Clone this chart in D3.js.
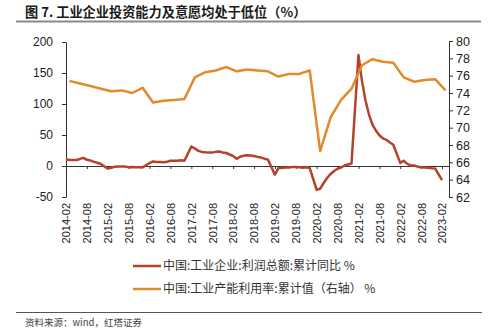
<!DOCTYPE html>
<html>
<head>
<meta charset="utf-8">
<script src="https://cdn.jsdelivr.net/npm/d3@7"></script>
<style>
  html, body { margin: 0; padding: 0; background: #fff; }
  svg { display: block; }
</style>
</head>
<body>
<svg id="chart" width="499" height="335"></svg>
<script>
// Industrial profits, cumulative YoY (%), monthly (January merged into February)
const profitDates = [
  "2014-02","2014-03","2014-04","2014-05","2014-06","2014-07","2014-08","2014-09","2014-10","2014-11","2014-12",
  "2015-02","2015-03","2015-04","2015-05","2015-06","2015-07","2015-08","2015-09","2015-10","2015-11","2015-12",
  "2016-02","2016-03","2016-04","2016-05","2016-06","2016-07","2016-08","2016-09","2016-10","2016-11","2016-12",
  "2017-02","2017-03","2017-04","2017-05","2017-06","2017-07","2017-08","2017-09","2017-10","2017-11","2017-12",
  "2018-02","2018-03","2018-04","2018-05","2018-06","2018-07","2018-08","2018-09","2018-10","2018-11","2018-12",
  "2019-02","2019-03","2019-04","2019-05","2019-06","2019-07","2019-08","2019-09","2019-10","2019-11","2019-12",
  "2020-02","2020-03","2020-04","2020-05","2020-06","2020-07","2020-08","2020-09","2020-10","2020-11","2020-12",
  "2021-02","2021-03","2021-04","2021-05","2021-06","2021-07","2021-08","2021-09","2021-10","2021-11","2021-12",
  "2022-02","2022-03","2022-04","2022-05","2022-06","2022-07","2022-08","2022-09","2022-10","2022-11","2022-12",
  "2023-02"
];
const profitYoY = [
  11.0, 9.6, 9.6, 9.8, 11.4, 13.2, 10.0, 9.0, 6.7, 5.3, 3.3,
  -4.2, -2.7, -1.3, -0.8, -0.7, -1.0, -1.9, -1.7, -2.0, -1.9, -2.3,
  4.8, 7.4, 6.5, 6.4, 6.2, 6.9, 8.4, 8.4, 8.6, 9.4, 8.5,
  31.5, 28.3, 24.4, 22.7, 22.0, 21.6, 21.6, 22.8, 23.3, 21.9, 21.0,
  16.1, 11.6, 15.0, 16.5, 17.2, 17.1, 16.2, 14.7, 13.6, 11.8, 10.3,
  -14.0, -3.3, -3.4, -2.3, -2.4, -1.7, -1.7, -2.1, -2.9, -2.1, -3.3,
  -38.3, -36.7, -27.4, -19.3, -12.8, -8.1, -4.4, -2.4, 0.7, 2.4, 4.1,
  178.9, 137.3, 106.0, 83.4, 66.9, 57.3, 49.5, 44.7, 42.2, 38.0, 34.3,
  5.0, 8.5, 3.5, 1.0, 1.0, -1.1, -2.1, -2.3, -3.0, -3.6, -4.0,
  -22.9
];

// Industrial capacity utilisation, cumulative (%), quarterly
const capacityDates = [
  "2014-03","2014-06","2014-09","2014-12",
  "2015-03","2015-06","2015-09","2015-12",
  "2016-03","2016-06","2016-09","2016-12",
  "2017-03","2017-06","2017-09","2017-12",
  "2018-03","2018-06","2018-09","2018-12",
  "2019-03","2019-06","2019-09","2019-12",
  "2020-03","2020-06","2020-09","2020-12",
  "2021-03","2021-06","2021-09","2021-12",
  "2022-03","2022-06","2022-09","2022-12",
  "2023-03"
];
const capacityRate = [
  75.4, 75.1, 74.8, 74.5,
  74.2, 74.3, 74.0, 74.6,
  72.9, 73.1, 73.2, 73.3,
  75.8, 76.4, 76.6, 77.0,
  76.5, 76.7, 76.6, 76.5,
  75.9, 76.2, 76.2, 76.6,
  67.3, 71.2, 73.2, 74.5,
  77.2, 77.9, 77.6, 77.5,
  75.8, 75.3, 75.5, 75.6,
  74.3
];

const xTickLabels = [
  "2014-02","2014-08","2015-02","2015-08","2016-02","2016-08","2017-02","2017-08","2018-02","2018-08",
  "2019-02","2019-08","2020-02","2020-08","2021-02","2021-08","2022-02","2022-08","2023-02"
];
const leftTicks = [-50, 0, 50, 100, 150, 200];
const rightTicks = [62, 64, 66, 68, 70, 72, 74, 76, 78, 80];

const titleText = "图 7. 工业企业投资能力及意愿均处于低位（%）";
const legendLabels = ["中国:工业企业:利润总额:累计同比 %", "中国:工业产能利用率:累计值（右轴） %"];
const sourceText = "资料来源：wind，红塔证券";

const RED = "#b5432b";
const ORANGE = "#e28a2c";
const TEXT_FONT = "'Liberation Sans', Arial, sans-serif";
const CJK_FONT = "'Noto Sans CJK SC', 'Noto Sans', sans-serif";

// month offset from 2014-02
const monthIdx = s => {
  const [y, m] = s.split("-").map(Number);
  return (y - 2014) * 12 + (m - 2);
};

const svg = d3.select("#chart");

const x = d3.scaleLinear().domain([0, 110]).range([66, 449]);
const yL = d3.scaleLinear().domain([-50, 200]).range([197, 42]);
const yR = d3.scaleLinear().domain([62, 80]).range([197, 41]);

// title and rule
svg.append("text")
  .attr("x", 25).attr("y", 17)
  .attr("font-family", CJK_FONT).attr("font-weight", "bold")
  .attr("font-size", 13.2).attr("fill", "#1a1a1a")
  .text(titleText);
svg.append("line")
  .attr("x1", 16).attr("x2", 481).attr("y1", 21.5).attr("y2", 21.5)
  .attr("stroke", "#8a8a8a").attr("stroke-width", 2);

// plain hyphen for negatives
const plain = d => String(d);

// left axis
const axL = svg.append("g").attr("transform", `translate(${x(0)},0)`)
  .call(d3.axisLeft(yL).tickValues(leftTicks).tickFormat(plain)
    .tickSize(4).tickSizeOuter(4).tickPadding(9));
// right axis
const axR = svg.append("g").attr("transform", `translate(${x(110)},0)`)
  .call(d3.axisRight(yR).tickValues(rightTicks).tickFormat(plain)
    .tickSize(4).tickSizeOuter(4).tickPadding(3));
// zero baseline with half-year ticks
const tickIdx = xTickLabels.map(monthIdx);
const axZ = svg.append("g").attr("transform", `translate(0,${yL(0)})`)
  .call(d3.axisBottom(x).tickValues(tickIdx).tickSize(3).tickSizeOuter(0).tickFormat(""));
// rotated date labels at the bottom
const axB = svg.append("g").attr("transform", "translate(0,203)")
  .call(d3.axisBottom(x).tickValues(tickIdx).tickSize(0)
    .tickFormat((d, i) => xTickLabels[i]));
axB.select(".domain").remove();
axB.selectAll("text")
  .attr("transform", "rotate(-90)")
  .attr("text-anchor", "end")
  .attr("x", 0).attr("y", 0).attr("dy", "0.35em");

[axL, axR, axZ, axB].forEach(g => {
  g.selectAll("path, line").attr("stroke", "#333").attr("stroke-width", 1);
  g.selectAll("text").attr("font-family", TEXT_FONT).attr("fill", "#222");
});
axL.selectAll("text").attr("font-size", 12);
axR.selectAll("text").attr("font-size", 12.5);
axB.selectAll("text").attr("font-size", 11);

// series
const profitLine = d3.line()
  .x((d, i) => x(monthIdx(profitDates[i])))
  .y(d => yL(d));
svg.append("path").datum(profitYoY)
  .attr("d", profitLine)
  .attr("fill", "none").attr("stroke", RED).attr("stroke-width", 2.5)
  .attr("stroke-linejoin", "round");

const capLine = d3.line()
  .x((d, i) => x(monthIdx(capacityDates[i])))
  .y(d => yR(d));
svg.append("path").datum(capacityRate)
  .attr("d", capLine)
  .attr("fill", "none").attr("stroke", ORANGE).attr("stroke-width", 2.5)
  .attr("stroke-linejoin", "round");

// legend
const legendColors = [RED, ORANGE];
const legend = svg.append("g");
legendLabels.forEach((lab, i) => {
  const yy = 266 + i * 23;
  legend.append("line")
    .attr("x1", 133).attr("x2", 161).attr("y1", yy).attr("y2", yy)
    .attr("stroke", legendColors[i]).attr("stroke-width", 2.5);
  legend.append("text")
    .attr("x", 163).attr("y", yy).attr("dy", "0.36em")
    .attr("font-family", CJK_FONT).attr("font-size", 12).attr("fill", "#333")
    .text(lab);
});

// footer rule and source
svg.append("line")
  .attr("x1", 16).attr("x2", 482).attr("y1", 312.5).attr("y2", 312.5)
  .attr("stroke", "#555").attr("stroke-width", 1.2);
svg.append("text")
  .attr("x", 25).attr("y", 323).attr("dy", "0.35em")
  .attr("font-family", CJK_FONT).attr("font-size", 9.5).attr("fill", "#444")
  .text(sourceText);
</script>
</body>
</html>
